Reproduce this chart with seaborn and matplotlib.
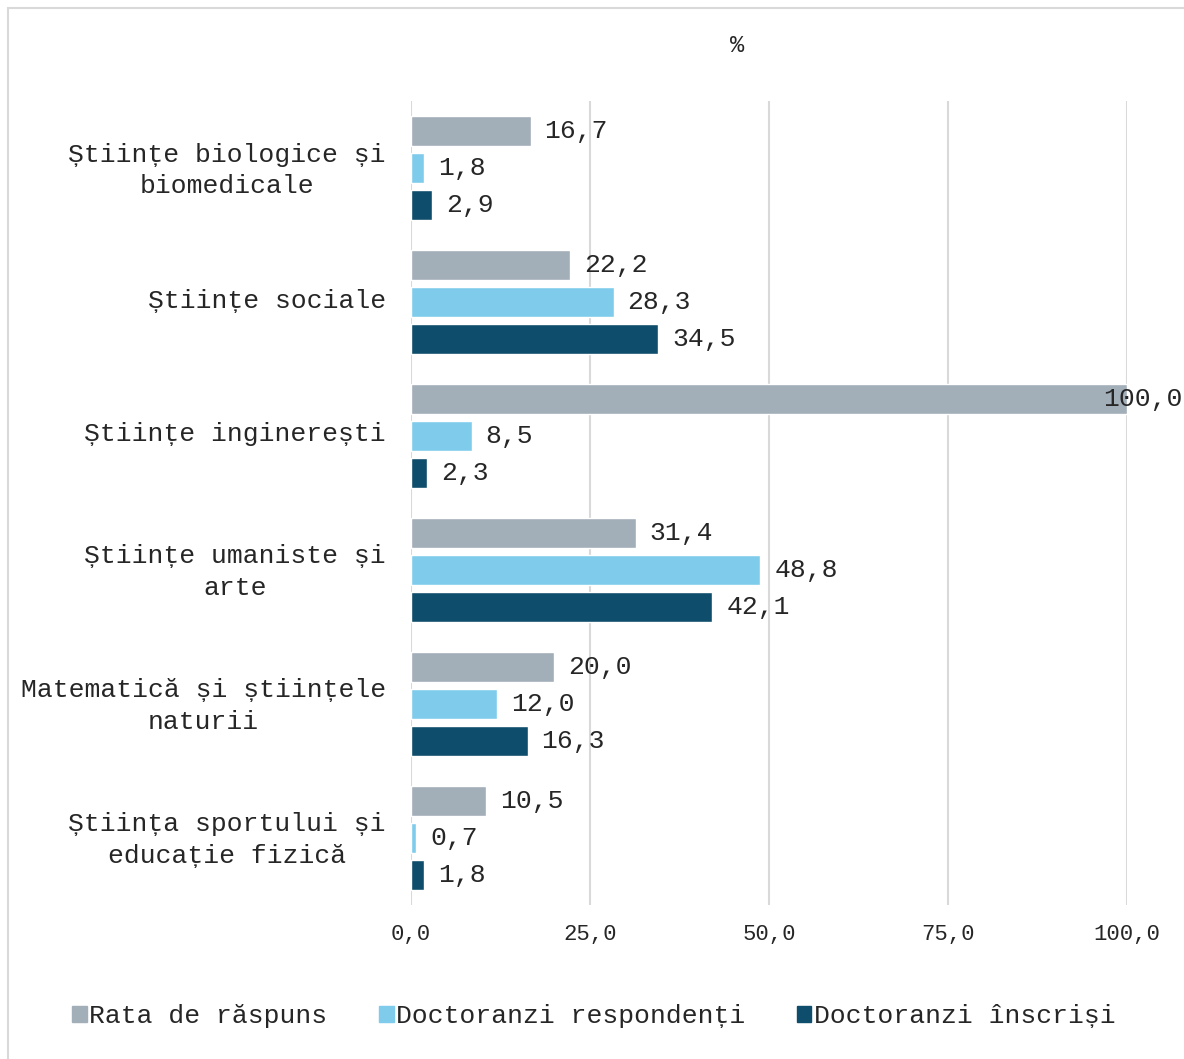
import numpy as np
import pandas as pd
import matplotlib
matplotlib.use('Agg')
import matplotlib.pyplot as plt
import matplotlib.transforms as mtransforms
import seaborn as sns
from matplotlib.patches import Rectangle

# data, top to bottom
categories = ['Științe biologice și\nbiomedicale', 'Științe sociale', 'Științe inginerești',
              'Științe umaniste și\narte', 'Matematică și științele\nnaturii',
              'Știința sportului și\neducație fizică']
series = ['Rata de răspuns', 'Doctoranzi respondenți', 'Doctoranzi înscriși']
rata = [16.7, 22.2, 100.0, 31.4, 20.0, 10.5]
respondenti = [1.8, 28.3, 8.5, 48.8, 12.0, 0.7]
inscrisi = [2.9, 34.5, 2.3, 42.1, 16.3, 1.8]
xticks = [0, 25, 50, 75, 100]
colors = ['#A2AEB8', '#7FCBEB', '#0E4D6B']

df = pd.DataFrame({
    'cat': categories * 3,
    'serie': [s for s in series for _ in categories],
    'val': rata + respondenti + inscrisi,
})

sns.set_style('white')
plt.rcParams['font.family'] = ['Liberation Mono', 'DejaVu Sans Mono']

fig = plt.figure(figsize=(11.84, 10.59), dpi=100)
ax = fig.add_axes([411/1184, 1 - 905/1059, (1127 - 411)/1184, (905 - 101)/1059])

sns.barplot(data=df, y='cat', x='val', hue='serie', order=categories, hue_order=series,
            palette=colors, orient='h', width=0.82, gap=0.18, ax=ax, legend=False,
            saturation=1)

fmt = lambda v: f"{v:.1f}".replace('.', ',')
for cont in ax.containers:
    labels = ax.bar_label(cont, fmt=fmt, padding=10, fontsize=19, color='#262626')
    for t, v in zip(labels, cont.datavalues):
        if v >= 100:
            t.xyann = (-17, 0)

ax.set_xlim(0, 100)
ax.set_ylim(len(categories) - 0.5, -0.5)
ax.set_xticks(xticks)
ax.set_xticklabels([f"{x:.1f}".replace('.', ',') for x in xticks], fontsize=16, color='#262626')
ax.tick_params(axis='x', length=0, pad=14)
ax.tick_params(axis='y', length=0, pad=18)
shift = mtransforms.ScaledTranslation(0, 4/100, fig.dpi_scale_trans)
for lab in ax.get_yticklabels():
    lab.set_fontsize(19)
    lab.set_multialignment('center')
    lab.set_linespacing(1.4)
    lab.set_color('#262626')
    lab.set_transform(lab.get_transform() + shift)
ax.set_xlabel('')
ax.set_ylabel('')
ax.grid(axis='x', color='#D9D9D9', linewidth=1.5)
ax.set_axisbelow(True)
for s in ax.spines.values():
    s.set_visible(False)

fig.text(737/1184, 1 - 46/1059, '%', fontsize=17, ha='center', va='center', color='#262626')

handles = [Rectangle((0, 0), 1, 1, color=c) for c in colors]
fig.legend(handles, series, loc='center', bbox_to_anchor=(594/1184, 1 - 1016/1059),
           ncol=3, frameon=False, fontsize=19, handlelength=0.55, handleheight=0.55,
           handletextpad=0.1, columnspacing=1.95)

fig.patches.append(Rectangle((8/1184, -0.05), 1.1, 1 - 8/1059 + 0.05, transform=fig.transFigure,
                             fill=False, edgecolor='#D9D9D9', linewidth=1.5))

fig.savefig('out.png', dpi=100)
